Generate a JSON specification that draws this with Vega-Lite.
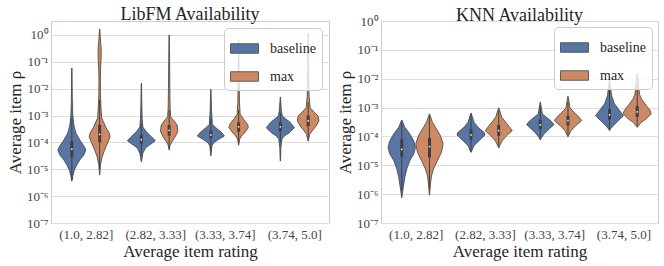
{
"$schema": "https://vega.github.io/schema/vega-lite/v6.json",
"autosize": {"type": "none"},
"padding": {"left": 51, "top": 21, "right": 613, "bottom": 245},
"background": "white",
"config": {
  "font": "Liberation Serif",
  "view": {"stroke": "#cccccc", "strokeWidth": 1},
  "axis": {"labelFont": "Liberation Serif", "titleFont": "Liberation Serif", "labelColor": "#444444", "titleColor": "#262626", "titleFontWeight": "normal", "domain": false, "ticks": false, "gridColor": "#dddddd", "gridWidth": 1, "labelFontSize": 13, "titleFontSize": 17, "labelOverlap": false},
  "legend": {"orient": "top-right", "offset": 7, "fillColor": "rgba(255,255,255,0.8)", "strokeColor": "#cccccc", "cornerRadius": 4, "padding": 6, "symbolType": "M-1,-0.34H1V0.34H-1Z", "symbolSize": 784, "symbolStrokeColor": "#404040", "symbolStrokeWidth": 0.8, "symbolOpacity": 1, "labelFont": "Liberation Serif", "labelFontSize": 14, "labelColor": "#262626", "labelOffset": 11, "rowPadding": 6},
  "title": {"font": "Liberation Serif", "fontSize": 18, "fontWeight": "normal", "color": "#262626", "offset": 2, "anchor": "middle"}
},
"datasets": {
  "profiles": [
    {"model":"LibFM","bin":"(1.0, 2.82]","hue":"baseline","log_rho":-1.23,"density":0.002},
    {"model":"LibFM","bin":"(1.0, 2.82]","hue":"baseline","log_rho":-2.42,"density":0.007},
    {"model":"LibFM","bin":"(1.0, 2.82]","hue":"baseline","log_rho":-2.98,"density":0.014},
    {"model":"LibFM","bin":"(1.0, 2.82]","hue":"baseline","log_rho":-3.35,"density":0.029},
    {"model":"LibFM","bin":"(1.0, 2.82]","hue":"baseline","log_rho":-3.65,"density":0.058},
    {"model":"LibFM","bin":"(1.0, 2.82]","hue":"baseline","log_rho":-3.91,"density":0.115},
    {"model":"LibFM","bin":"(1.0, 2.82]","hue":"baseline","log_rho":-4.13,"density":0.173},
    {"model":"LibFM","bin":"(1.0, 2.82]","hue":"baseline","log_rho":-4.28,"density":0.202},
    {"model":"LibFM","bin":"(1.0, 2.82]","hue":"baseline","log_rho":-4.47,"density":0.173},
    {"model":"LibFM","bin":"(1.0, 2.82]","hue":"baseline","log_rho":-4.65,"density":0.115},
    {"model":"LibFM","bin":"(1.0, 2.82]","hue":"baseline","log_rho":-4.84,"density":0.072},
    {"model":"LibFM","bin":"(1.0, 2.82]","hue":"baseline","log_rho":-5.03,"density":0.036},
    {"model":"LibFM","bin":"(1.0, 2.82]","hue":"baseline","log_rho":-5.25,"density":0.014},
    {"model":"LibFM","bin":"(1.0, 2.82]","hue":"baseline","log_rho":-5.44,"density":0.002},

    {"model":"LibFM","bin":"(1.0, 2.82]","hue":"max","log_rho":0.22,"density":0.002},
    {"model":"LibFM","bin":"(1.0, 2.82]","hue":"max","log_rho":-0.19,"density":0.012},
    {"model":"LibFM","bin":"(1.0, 2.82]","hue":"max","log_rho":-0.48,"density":0.022},
    {"model":"LibFM","bin":"(1.0, 2.82]","hue":"max","log_rho":-0.86,"density":0.022},
    {"model":"LibFM","bin":"(1.0, 2.82]","hue":"max","log_rho":-1.23,"density":0.014},
    {"model":"LibFM","bin":"(1.0, 2.82]","hue":"max","log_rho":-1.68,"density":0.010},
    {"model":"LibFM","bin":"(1.0, 2.82]","hue":"max","log_rho":-2.23,"density":0.012},
    {"model":"LibFM","bin":"(1.0, 2.82]","hue":"max","log_rho":-2.61,"density":0.018},
    {"model":"LibFM","bin":"(1.0, 2.82]","hue":"max","log_rho":-3.09,"density":0.029},
    {"model":"LibFM","bin":"(1.0, 2.82]","hue":"max","log_rho":-3.25,"density":0.058},
    {"model":"LibFM","bin":"(1.0, 2.82]","hue":"max","log_rho":-3.42,"density":0.086},
    {"model":"LibFM","bin":"(1.0, 2.82]","hue":"max","log_rho":-3.65,"density":0.137},
    {"model":"LibFM","bin":"(1.0, 2.82]","hue":"max","log_rho":-3.79,"density":0.151},
    {"model":"LibFM","bin":"(1.0, 2.82]","hue":"max","log_rho":-4.02,"density":0.115},
    {"model":"LibFM","bin":"(1.0, 2.82]","hue":"max","log_rho":-4.28,"density":0.072},
    {"model":"LibFM","bin":"(1.0, 2.82]","hue":"max","log_rho":-4.54,"density":0.036},
    {"model":"LibFM","bin":"(1.0, 2.82]","hue":"max","log_rho":-4.85,"density":0.012},
    {"model":"LibFM","bin":"(1.0, 2.82]","hue":"max","log_rho":-5.21,"density":0.002},

    {"model":"LibFM","bin":"(2.82, 3.33]","hue":"baseline","log_rho":-1.80,"density":0.002},
    {"model":"LibFM","bin":"(2.82, 3.33]","hue":"baseline","log_rho":-2.60,"density":0.007},
    {"model":"LibFM","bin":"(2.82, 3.33]","hue":"baseline","log_rho":-3.10,"density":0.012},
    {"model":"LibFM","bin":"(2.82, 3.33]","hue":"baseline","log_rho":-3.43,"density":0.022},
    {"model":"LibFM","bin":"(2.82, 3.33]","hue":"baseline","log_rho":-3.60,"density":0.072},
    {"model":"LibFM","bin":"(2.82, 3.33]","hue":"baseline","log_rho":-3.79,"density":0.144},
    {"model":"LibFM","bin":"(2.82, 3.33]","hue":"baseline","log_rho":-3.93,"density":0.202},
    {"model":"LibFM","bin":"(2.82, 3.33]","hue":"baseline","log_rho":-4.02,"density":0.160},
    {"model":"LibFM","bin":"(2.82, 3.33]","hue":"baseline","log_rho":-4.10,"density":0.115},
    {"model":"LibFM","bin":"(2.82, 3.33]","hue":"baseline","log_rho":-4.21,"density":0.058},
    {"model":"LibFM","bin":"(2.82, 3.33]","hue":"baseline","log_rho":-4.40,"density":0.022},
    {"model":"LibFM","bin":"(2.82, 3.33]","hue":"baseline","log_rho":-4.72,"density":0.002},

    {"model":"LibFM","bin":"(2.82, 3.33]","hue":"max","log_rho":0.0,"density":0.002},
    {"model":"LibFM","bin":"(2.82, 3.33]","hue":"max","log_rho":-1.0,"density":0.007},
    {"model":"LibFM","bin":"(2.82, 3.33]","hue":"max","log_rho":-2.0,"density":0.010},
    {"model":"LibFM","bin":"(2.82, 3.33]","hue":"max","log_rho":-2.7,"density":0.014},
    {"model":"LibFM","bin":"(2.82, 3.33]","hue":"max","log_rho":-3.04,"density":0.022},
    {"model":"LibFM","bin":"(2.82, 3.33]","hue":"max","log_rho":-3.16,"density":0.058},
    {"model":"LibFM","bin":"(2.82, 3.33]","hue":"max","log_rho":-3.35,"density":0.115},
    {"model":"LibFM","bin":"(2.82, 3.33]","hue":"max","log_rho":-3.60,"density":0.125},
    {"model":"LibFM","bin":"(2.82, 3.33]","hue":"max","log_rho":-3.79,"density":0.086},
    {"model":"LibFM","bin":"(2.82, 3.33]","hue":"max","log_rho":-3.97,"density":0.043},
    {"model":"LibFM","bin":"(2.82, 3.33]","hue":"max","log_rho":-4.10,"density":0.014},
    {"model":"LibFM","bin":"(2.82, 3.33]","hue":"max","log_rho":-4.28,"density":0.002},

    {"model":"LibFM","bin":"(3.33, 3.74]","hue":"baseline","log_rho":-2.02,"density":0.002},
    {"model":"LibFM","bin":"(3.33, 3.74]","hue":"baseline","log_rho":-2.80,"density":0.010},
    {"model":"LibFM","bin":"(3.33, 3.74]","hue":"baseline","log_rho":-3.33,"density":0.022},
    {"model":"LibFM","bin":"(3.33, 3.74]","hue":"baseline","log_rho":-3.45,"density":0.072},
    {"model":"LibFM","bin":"(3.33, 3.74]","hue":"baseline","log_rho":-3.64,"density":0.158},
    {"model":"LibFM","bin":"(3.33, 3.74]","hue":"baseline","log_rho":-3.76,"density":0.195},
    {"model":"LibFM","bin":"(3.33, 3.74]","hue":"baseline","log_rho":-3.88,"density":0.115},
    {"model":"LibFM","bin":"(3.33, 3.74]","hue":"baseline","log_rho":-4.01,"density":0.043},
    {"model":"LibFM","bin":"(3.33, 3.74]","hue":"baseline","log_rho":-4.13,"density":0.014},
    {"model":"LibFM","bin":"(3.33, 3.74]","hue":"baseline","log_rho":-4.50,"density":0.002},

    {"model":"LibFM","bin":"(3.33, 3.74]","hue":"max","log_rho":-0.2,"density":0.002},
    {"model":"LibFM","bin":"(3.33, 3.74]","hue":"max","log_rho":-1.5,"density":0.007},
    {"model":"LibFM","bin":"(3.33, 3.74]","hue":"max","log_rho":-2.5,"density":0.012},
    {"model":"LibFM","bin":"(3.33, 3.74]","hue":"max","log_rho":-2.95,"density":0.022},
    {"model":"LibFM","bin":"(3.33, 3.74]","hue":"max","log_rho":-3.14,"density":0.072},
    {"model":"LibFM","bin":"(3.33, 3.74]","hue":"max","log_rho":-3.33,"density":0.130},
    {"model":"LibFM","bin":"(3.33, 3.74]","hue":"max","log_rho":-3.45,"density":0.140},
    {"model":"LibFM","bin":"(3.33, 3.74]","hue":"max","log_rho":-3.64,"density":0.086},
    {"model":"LibFM","bin":"(3.33, 3.74]","hue":"max","log_rho":-3.76,"density":0.043},
    {"model":"LibFM","bin":"(3.33, 3.74]","hue":"max","log_rho":-3.88,"density":0.014},
    {"model":"LibFM","bin":"(3.33, 3.74]","hue":"max","log_rho":-4.10,"density":0.002},

    {"model":"LibFM","bin":"(3.74, 5.0]","hue":"baseline","log_rho":-2.31,"density":0.002},
    {"model":"LibFM","bin":"(3.74, 5.0]","hue":"baseline","log_rho":-2.80,"density":0.014},
    {"model":"LibFM","bin":"(3.74, 5.0]","hue":"baseline","log_rho":-3.02,"density":0.029},
    {"model":"LibFM","bin":"(3.74, 5.0]","hue":"baseline","log_rho":-3.14,"density":0.086},
    {"model":"LibFM","bin":"(3.74, 5.0]","hue":"baseline","log_rho":-3.26,"density":0.144},
    {"model":"LibFM","bin":"(3.74, 5.0]","hue":"baseline","log_rho":-3.45,"density":0.202},
    {"model":"LibFM","bin":"(3.74, 5.0]","hue":"baseline","log_rho":-3.64,"density":0.130},
    {"model":"LibFM","bin":"(3.74, 5.0]","hue":"baseline","log_rho":-3.76,"density":0.058},
    {"model":"LibFM","bin":"(3.74, 5.0]","hue":"baseline","log_rho":-3.88,"density":0.022},
    {"model":"LibFM","bin":"(3.74, 5.0]","hue":"baseline","log_rho":-4.20,"density":0.008},
    {"model":"LibFM","bin":"(3.74, 5.0]","hue":"baseline","log_rho":-4.69,"density":0.002},

    {"model":"LibFM","bin":"(3.74, 5.0]","hue":"max","log_rho":0.07,"density":0.002},
    {"model":"LibFM","bin":"(3.74, 5.0]","hue":"max","log_rho":-1.2,"density":0.007},
    {"model":"LibFM","bin":"(3.74, 5.0]","hue":"max","log_rho":-2.3,"density":0.014},
    {"model":"LibFM","bin":"(3.74, 5.0]","hue":"max","log_rho":-2.71,"density":0.029},
    {"model":"LibFM","bin":"(3.74, 5.0]","hue":"max","log_rho":-2.83,"density":0.072},
    {"model":"LibFM","bin":"(3.74, 5.0]","hue":"max","log_rho":-3.02,"density":0.144},
    {"model":"LibFM","bin":"(3.74, 5.0]","hue":"max","log_rho":-3.20,"density":0.155},
    {"model":"LibFM","bin":"(3.74, 5.0]","hue":"max","log_rho":-3.39,"density":0.115},
    {"model":"LibFM","bin":"(3.74, 5.0]","hue":"max","log_rho":-3.57,"density":0.058},
    {"model":"LibFM","bin":"(3.74, 5.0]","hue":"max","log_rho":-3.70,"density":0.022},
    {"model":"LibFM","bin":"(3.74, 5.0]","hue":"max","log_rho":-3.95,"density":0.002},

    {"model":"KNN","bin":"(1.0, 2.82]","hue":"baseline","log_rho":-3.43,"density":0.002},
    {"model":"KNN","bin":"(1.0, 2.82]","hue":"baseline","log_rho":-3.68,"density":0.043},
    {"model":"KNN","bin":"(1.0, 2.82]","hue":"baseline","log_rho":-3.91,"density":0.115},
    {"model":"KNN","bin":"(1.0, 2.82]","hue":"baseline","log_rho":-4.15,"density":0.173},
    {"model":"KNN","bin":"(1.0, 2.82]","hue":"baseline","log_rho":-4.38,"density":0.198},
    {"model":"KNN","bin":"(1.0, 2.82]","hue":"baseline","log_rho":-4.61,"density":0.173},
    {"model":"KNN","bin":"(1.0, 2.82]","hue":"baseline","log_rho":-4.84,"density":0.115},
    {"model":"KNN","bin":"(1.0, 2.82]","hue":"baseline","log_rho":-5.13,"density":0.072},
    {"model":"KNN","bin":"(1.0, 2.82]","hue":"baseline","log_rho":-5.43,"density":0.043},
    {"model":"KNN","bin":"(1.0, 2.82]","hue":"baseline","log_rho":-5.66,"density":0.029},
    {"model":"KNN","bin":"(1.0, 2.82]","hue":"baseline","log_rho":-5.89,"density":0.014},
    {"model":"KNN","bin":"(1.0, 2.82]","hue":"baseline","log_rho":-6.12,"density":0.002},

    {"model":"KNN","bin":"(1.0, 2.82]","hue":"max","log_rho":-3.22,"density":0.002},
    {"model":"KNN","bin":"(1.0, 2.82]","hue":"max","log_rho":-3.51,"density":0.043},
    {"model":"KNN","bin":"(1.0, 2.82]","hue":"max","log_rho":-3.74,"density":0.101},
    {"model":"KNN","bin":"(1.0, 2.82]","hue":"max","log_rho":-3.97,"density":0.158},
    {"model":"KNN","bin":"(1.0, 2.82]","hue":"max","log_rho":-4.26,"density":0.198},
    {"model":"KNN","bin":"(1.0, 2.82]","hue":"max","log_rho":-4.55,"density":0.173},
    {"model":"KNN","bin":"(1.0, 2.82]","hue":"max","log_rho":-4.84,"density":0.115},
    {"model":"KNN","bin":"(1.0, 2.82]","hue":"max","log_rho":-5.13,"density":0.058},
    {"model":"KNN","bin":"(1.0, 2.82]","hue":"max","log_rho":-5.37,"density":0.029},
    {"model":"KNN","bin":"(1.0, 2.82]","hue":"max","log_rho":-5.66,"density":0.014},
    {"model":"KNN","bin":"(1.0, 2.82]","hue":"max","log_rho":-6.03,"density":0.002},

    {"model":"KNN","bin":"(2.82, 3.33]","hue":"baseline","log_rho":-3.19,"density":0.002},
    {"model":"KNN","bin":"(2.82, 3.33]","hue":"baseline","log_rho":-3.51,"density":0.043},
    {"model":"KNN","bin":"(2.82, 3.33]","hue":"baseline","log_rho":-3.68,"density":0.101},
    {"model":"KNN","bin":"(2.82, 3.33]","hue":"baseline","log_rho":-3.86,"density":0.190},
    {"model":"KNN","bin":"(2.82, 3.33]","hue":"baseline","log_rho":-3.95,"density":0.202},
    {"model":"KNN","bin":"(2.82, 3.33]","hue":"baseline","log_rho":-4.05,"density":0.160},
    {"model":"KNN","bin":"(2.82, 3.33]","hue":"baseline","log_rho":-4.15,"density":0.115},
    {"model":"KNN","bin":"(2.82, 3.33]","hue":"baseline","log_rho":-4.32,"density":0.043},
    {"model":"KNN","bin":"(2.82, 3.33]","hue":"baseline","log_rho":-4.55,"density":0.002},

    {"model":"KNN","bin":"(2.82, 3.33]","hue":"max","log_rho":-3.01,"density":0.002},
    {"model":"KNN","bin":"(2.82, 3.33]","hue":"max","log_rho":-3.33,"density":0.043},
    {"model":"KNN","bin":"(2.82, 3.33]","hue":"max","log_rho":-3.51,"density":0.101},
    {"model":"KNN","bin":"(2.82, 3.33]","hue":"max","log_rho":-3.68,"density":0.158},
    {"model":"KNN","bin":"(2.82, 3.33]","hue":"max","log_rho":-3.80,"density":0.195},
    {"model":"KNN","bin":"(2.82, 3.33]","hue":"max","log_rho":-3.97,"density":0.115},
    {"model":"KNN","bin":"(2.82, 3.33]","hue":"max","log_rho":-4.15,"density":0.050},
    {"model":"KNN","bin":"(2.82, 3.33]","hue":"max","log_rho":-4.32,"density":0.014},
    {"model":"KNN","bin":"(2.82, 3.33]","hue":"max","log_rho":-4.40,"density":0.002},

    {"model":"KNN","bin":"(3.33, 3.74]","hue":"baseline","log_rho":-2.81,"density":0.002},
    {"model":"KNN","bin":"(3.33, 3.74]","hue":"baseline","log_rho":-3.22,"density":0.029},
    {"model":"KNN","bin":"(3.33, 3.74]","hue":"baseline","log_rho":-3.33,"density":0.086},
    {"model":"KNN","bin":"(3.33, 3.74]","hue":"baseline","log_rho":-3.47,"density":0.158},
    {"model":"KNN","bin":"(3.33, 3.74]","hue":"baseline","log_rho":-3.59,"density":0.198},
    {"model":"KNN","bin":"(3.33, 3.74]","hue":"baseline","log_rho":-3.74,"density":0.130},
    {"model":"KNN","bin":"(3.33, 3.74]","hue":"baseline","log_rho":-3.91,"density":0.058},
    {"model":"KNN","bin":"(3.33, 3.74]","hue":"baseline","log_rho":-4.03,"density":0.022},
    {"model":"KNN","bin":"(3.33, 3.74]","hue":"baseline","log_rho":-4.12,"density":0.002},

    {"model":"KNN","bin":"(3.33, 3.74]","hue":"max","log_rho":-2.61,"density":0.002},
    {"model":"KNN","bin":"(3.33, 3.74]","hue":"max","log_rho":-3.01,"density":0.029},
    {"model":"KNN","bin":"(3.33, 3.74]","hue":"max","log_rho":-3.16,"density":0.086},
    {"model":"KNN","bin":"(3.33, 3.74]","hue":"max","log_rho":-3.33,"density":0.158},
    {"model":"KNN","bin":"(3.33, 3.74]","hue":"max","log_rho":-3.45,"density":0.198},
    {"model":"KNN","bin":"(3.33, 3.74]","hue":"max","log_rho":-3.62,"density":0.115},
    {"model":"KNN","bin":"(3.33, 3.74]","hue":"max","log_rho":-3.80,"density":0.043},
    {"model":"KNN","bin":"(3.33, 3.74]","hue":"max","log_rho":-4.01,"density":0.002},

    {"model":"KNN","bin":"(3.74, 5.0]","hue":"baseline","log_rho":-2.03,"density":0.002},
    {"model":"KNN","bin":"(3.74, 5.0]","hue":"baseline","log_rho":-2.58,"density":0.029},
    {"model":"KNN","bin":"(3.74, 5.0]","hue":"baseline","log_rho":-2.87,"density":0.072},
    {"model":"KNN","bin":"(3.74, 5.0]","hue":"baseline","log_rho":-3.10,"density":0.144},
    {"model":"KNN","bin":"(3.74, 5.0]","hue":"baseline","log_rho":-3.28,"density":0.202},
    {"model":"KNN","bin":"(3.74, 5.0]","hue":"baseline","log_rho":-3.45,"density":0.130},
    {"model":"KNN","bin":"(3.74, 5.0]","hue":"baseline","log_rho":-3.62,"density":0.058},
    {"model":"KNN","bin":"(3.74, 5.0]","hue":"baseline","log_rho":-3.74,"density":0.014},
    {"model":"KNN","bin":"(3.74, 5.0]","hue":"baseline","log_rho":-3.80,"density":0.002},

    {"model":"KNN","bin":"(3.74, 5.0]","hue":"max","log_rho":-1.82,"density":0.002},
    {"model":"KNN","bin":"(3.74, 5.0]","hue":"max","log_rho":-2.20,"density":0.020},
    {"model":"KNN","bin":"(3.74, 5.0]","hue":"max","log_rho":-2.40,"density":0.026},
    {"model":"KNN","bin":"(3.74, 5.0]","hue":"max","log_rho":-2.55,"density":0.035},
    {"model":"KNN","bin":"(3.74, 5.0]","hue":"max","log_rho":-2.69,"density":0.058},
    {"model":"KNN","bin":"(3.74, 5.0]","hue":"max","log_rho":-2.93,"density":0.130},
    {"model":"KNN","bin":"(3.74, 5.0]","hue":"max","log_rho":-3.10,"density":0.187},
    {"model":"KNN","bin":"(3.74, 5.0]","hue":"max","log_rho":-3.22,"density":0.202},
    {"model":"KNN","bin":"(3.74, 5.0]","hue":"max","log_rho":-3.39,"density":0.130},
    {"model":"KNN","bin":"(3.74, 5.0]","hue":"max","log_rho":-3.51,"density":0.058},
    {"model":"KNN","bin":"(3.74, 5.0]","hue":"max","log_rho":-3.62,"density":0.022},
    {"model":"KNN","bin":"(3.74, 5.0]","hue":"max","log_rho":-3.68,"density":0.002}
  ],
  "boxes": [
    {"model":"LibFM","bin":"(1.0, 2.82]","hue":"baseline","low":-5.4,"q1":-4.55,"median":-4.25,"q3":-3.95,"high":-3.1},
    {"model":"LibFM","bin":"(1.0, 2.82]","hue":"max","low":-5.0,"q1":-4.0,"median":-3.7,"q3":-3.35,"high":-2.4},
    {"model":"LibFM","bin":"(2.82, 3.33]","hue":"baseline","low":-4.5,"q1":-4.05,"median":-3.9,"q3":-3.72,"high":-3.3},
    {"model":"LibFM","bin":"(2.82, 3.33]","hue":"max","low":-4.2,"q1":-3.75,"median":-3.55,"q3":-3.35,"high":-2.8},
    {"model":"LibFM","bin":"(3.33, 3.74]","hue":"baseline","low":-4.3,"q1":-3.85,"median":-3.72,"q3":-3.55,"high":-3.1},
    {"model":"LibFM","bin":"(3.33, 3.74]","hue":"max","low":-4.0,"q1":-3.6,"median":-3.42,"q3":-3.25,"high":-2.8},
    {"model":"LibFM","bin":"(3.74, 5.0]","hue":"baseline","low":-4.0,"q1":-3.6,"median":-3.42,"q3":-3.25,"high":-2.9},
    {"model":"LibFM","bin":"(3.74, 5.0]","hue":"max","low":-3.85,"q1":-3.4,"median":-3.2,"q3":-3.0,"high":-2.5},
    {"model":"KNN","bin":"(1.0, 2.82]","hue":"baseline","low":-5.9,"q1":-4.7,"median":-4.45,"q3":-4.1,"high":-3.5},
    {"model":"KNN","bin":"(1.0, 2.82]","hue":"max","low":-5.8,"q1":-4.73,"median":-4.35,"q3":-4.05,"high":-3.3},
    {"model":"KNN","bin":"(2.82, 3.33]","hue":"baseline","low":-4.5,"q1":-4.12,"median":-3.95,"q3":-3.75,"high":-3.25},
    {"model":"KNN","bin":"(2.82, 3.33]","hue":"max","low":-4.35,"q1":-3.98,"median":-3.8,"q3":-3.6,"high":-3.1},
    {"model":"KNN","bin":"(3.33, 3.74]","hue":"baseline","low":-4.05,"q1":-3.75,"median":-3.6,"q3":-3.42,"high":-2.95},
    {"model":"KNN","bin":"(3.33, 3.74]","hue":"max","low":-3.95,"q1":-3.62,"median":-3.45,"q3":-3.28,"high":-2.8},
    {"model":"KNN","bin":"(3.74, 5.0]","hue":"baseline","low":-3.75,"q1":-3.42,"median":-3.25,"q3":-3.05,"high":-2.3},
    {"model":"KNN","bin":"(3.74, 5.0]","hue":"max","low":-3.65,"q1":-3.32,"median":-3.15,"q3":-2.95,"high":-2.2}
  ]
},
"spacing": 52,
"bounds": "flush",
"resolve": {"scale": {"color": "independent", "y": "independent", "x": "independent"}},
"hconcat": [
  {
    "width": 278, "height": 202,
    "title": {"text": "LibFM Availability", "dy": 5},
    "layer": [
      {
        "data": {"name": "profiles"},
        "transform": [
          {"filter": "datum.model == 'LibFM'"},
          {"calculate": "indexof(['(1.0, 2.82]','(2.82, 3.33]','(3.33, 3.74]','(3.74, 5.0]'], datum.bin) + (datum.hue == 'baseline' ? 0.3 : 0.7)", "as": "center"},
          {"calculate": "datum.center - datum.density", "as": "left"},
          {"calculate": "datum.center + datum.density", "as": "right"}
        ],
        "mark": {"type": "area", "orient": "horizontal", "stroke": "#404040", "strokeWidth": 0.8, "opacity": 1},
        "encoding": {
          "y": {"field": "log_rho", "type": "quantitative", "scale": {"domain": [-7, 0.52], "nice": false, "zero": false},
                "axis": {"values": [-7,-6,-5,-4,-3,-2,-1,0], "tickCount": 12, "labelOverlap": false, "labelExpr": "datum.value == 0 ? '10⁰' : datum.value == -1 ? '10⁻¹' : datum.value == -2 ? '10⁻²' : datum.value == -3 ? '10⁻³' : datum.value == -4 ? '10⁻⁴' : datum.value == -5 ? '10⁻⁵' : datum.value == -6 ? '10⁻⁶' : '10⁻⁷'", "title": "Average item ρ", "labelPadding": 3, "titlePadding": 2, "grid": true}},
          "x": {"field": "left", "type": "quantitative", "scale": {"domain": [0, 4], "nice": false, "zero": false},
                "axis": {"values": [0.5, 1.5, 2.5, 3.5], "tickCount": 8, "labelOverlap": false, "labelExpr": "['(1.0, 2.82]','(2.82, 3.33]','(3.33, 3.74]','(3.74, 5.0]'][floor(datum.value)]", "title": "Average item rating", "grid": false, "labelPadding": 5, "titlePadding": 2}},
          "x2": {"field": "right"},
          "color": {"field": "hue", "type": "nominal", "scale": {"domain": ["baseline", "max"], "range": ["#5975A4", "#CC8963"]}, "legend": {"title": null}},
          "detail": {"field": "bin"}
        }
      },
      {
        "data": {"name": "boxes"},
        "transform": [
          {"filter": "datum.model == 'LibFM'"},
          {"calculate": "indexof(['(1.0, 2.82]','(2.82, 3.33]','(3.33, 3.74]','(3.74, 5.0]'], datum.bin) + (datum.hue == 'baseline' ? 0.3 : 0.7)", "as": "center"}
        ],
        "mark": {"type": "rule", "color": "#3f3f3f", "strokeWidth": 1},
        "encoding": {"x": {"field": "center", "type": "quantitative"}, "y": {"field": "low", "type": "quantitative"}, "y2": {"field": "high"}}
      },
      {
        "data": {"name": "boxes"},
        "transform": [
          {"filter": "datum.model == 'LibFM'"},
          {"calculate": "indexof(['(1.0, 2.82]','(2.82, 3.33]','(3.33, 3.74]','(3.74, 5.0]'], datum.bin) + (datum.hue == 'baseline' ? 0.3 : 0.7)", "as": "center"}
        ],
        "mark": {"type": "rule", "color": "#3f3f3f", "strokeWidth": 3},
        "encoding": {"x": {"field": "center", "type": "quantitative"}, "y": {"field": "q1", "type": "quantitative"}, "y2": {"field": "q3"}}
      },
      {
        "data": {"name": "boxes"},
        "transform": [
          {"filter": "datum.model == 'LibFM'"},
          {"calculate": "indexof(['(1.0, 2.82]','(2.82, 3.33]','(3.33, 3.74]','(3.74, 5.0]'], datum.bin) + (datum.hue == 'baseline' ? 0.3 : 0.7)", "as": "center"}
        ],
        "mark": {"type": "point", "filled": true, "color": "#eeeeee", "size": 3, "opacity": 1},
        "encoding": {"x": {"field": "center", "type": "quantitative"}, "y": {"field": "median", "type": "quantitative"}}
      }
    ]
  },
  {
    "width": 277, "height": 202,
    "title": {"text": "KNN Availability", "dy": 12},
    "layer": [
      {
        "data": {"name": "profiles"},
        "transform": [
          {"filter": "datum.model == 'KNN'"},
          {"calculate": "indexof(['(1.0, 2.82]','(2.82, 3.33]','(3.33, 3.74]','(3.74, 5.0]'], datum.bin) + (datum.hue == 'baseline' ? 0.3 : 0.7)", "as": "center"},
          {"calculate": "datum.center - datum.density", "as": "left"},
          {"calculate": "datum.center + datum.density", "as": "right"}
        ],
        "mark": {"type": "area", "orient": "horizontal", "stroke": "#404040", "strokeWidth": 0.8, "opacity": 1},
        "encoding": {
          "y": {"field": "log_rho", "type": "quantitative", "scale": {"domain": [-7, 0], "nice": false, "zero": false},
                "axis": {"values": [-7,-6,-5,-4,-3,-2,-1,0], "tickCount": 12, "labelOverlap": false, "labelExpr": "datum.value == 0 ? '10⁰' : datum.value == -1 ? '10⁻¹' : datum.value == -2 ? '10⁻²' : datum.value == -3 ? '10⁻³' : datum.value == -4 ? '10⁻⁴' : datum.value == -5 ? '10⁻⁵' : datum.value == -6 ? '10⁻⁶' : '10⁻⁷'", "title": "Average item ρ", "labelPadding": 3, "titlePadding": 2, "grid": true}},
          "x": {"field": "left", "type": "quantitative", "scale": {"domain": [0, 4], "nice": false, "zero": false},
                "axis": {"values": [0.5, 1.5, 2.5, 3.5], "tickCount": 8, "labelOverlap": false, "labelExpr": "['(1.0, 2.82]','(2.82, 3.33]','(3.33, 3.74]','(3.74, 5.0]'][floor(datum.value)]", "title": "Average item rating", "grid": false, "labelPadding": 5, "titlePadding": 2}},
          "x2": {"field": "right"},
          "color": {"field": "hue", "type": "nominal", "scale": {"domain": ["baseline", "max"], "range": ["#5975A4", "#CC8963"]}, "legend": {"title": null, "offset": 6}},
          "detail": {"field": "bin"}
        }
      },
      {
        "data": {"name": "boxes"},
        "transform": [
          {"filter": "datum.model == 'KNN'"},
          {"calculate": "indexof(['(1.0, 2.82]','(2.82, 3.33]','(3.33, 3.74]','(3.74, 5.0]'], datum.bin) + (datum.hue == 'baseline' ? 0.3 : 0.7)", "as": "center"}
        ],
        "mark": {"type": "rule", "color": "#3f3f3f", "strokeWidth": 1},
        "encoding": {"x": {"field": "center", "type": "quantitative"}, "y": {"field": "low", "type": "quantitative"}, "y2": {"field": "high"}}
      },
      {
        "data": {"name": "boxes"},
        "transform": [
          {"filter": "datum.model == 'KNN'"},
          {"calculate": "indexof(['(1.0, 2.82]','(2.82, 3.33]','(3.33, 3.74]','(3.74, 5.0]'], datum.bin) + (datum.hue == 'baseline' ? 0.3 : 0.7)", "as": "center"}
        ],
        "mark": {"type": "rule", "color": "#3f3f3f", "strokeWidth": 3},
        "encoding": {"x": {"field": "center", "type": "quantitative"}, "y": {"field": "q1", "type": "quantitative"}, "y2": {"field": "q3"}}
      },
      {
        "data": {"name": "boxes"},
        "transform": [
          {"filter": "datum.model == 'KNN'"},
          {"calculate": "indexof(['(1.0, 2.82]','(2.82, 3.33]','(3.33, 3.74]','(3.74, 5.0]'], datum.bin) + (datum.hue == 'baseline' ? 0.3 : 0.7)", "as": "center"}
        ],
        "mark": {"type": "point", "filled": true, "color": "#eeeeee", "size": 3, "opacity": 1},
        "encoding": {"x": {"field": "center", "type": "quantitative"}, "y": {"field": "median", "type": "quantitative"}}
      }
    ]
  }
]
}
